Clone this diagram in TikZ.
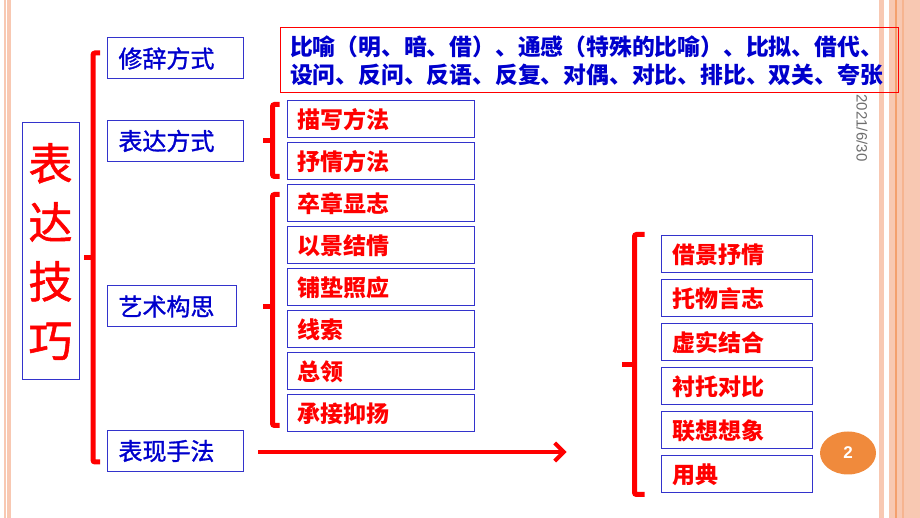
\documentclass[tikz,border=0pt]{standalone}
\usepackage{fontspec}
\setmainfont{Noto Sans CJK SC}
\newfontfamily\heavycjk[FakeBold=1.2]{Noto Sans CJK SC}
\setsansfont{Liberation Sans}
\usetikzlibrary{arrows.meta,positioning,calc,shapes.geometric}
\definecolor{fangblue}{RGB}{0,0,204}
\definecolor{boxblue}{RGB}{51,51,204}
\definecolor{fangred}{RGB}{255,0,0}
\definecolor{peach}{RGB}{248,200,178}
\definecolor{deeppeach}{RGB}{244,160,110}
\definecolor{pageorange}{RGB}{240,138,60}
\definecolor{dategray}{RGB}{110,110,110}
\tikzset{
    %Define standard arrow tip
    >={Straight Barb[length=9pt,width=18pt]},
    way/.style={
      rectangle,
      draw=boxblue, line width=1pt,
      text=fangblue,
      font=\heavycjk\fontsize{24}{28}\selectfont,
      text width=114pt, align=left,
      inner xsep=11pt, inner ysep=0pt,
      minimum height=41pt},
    skill/.style={
      rectangle,
      draw=boxblue, line width=1pt,
      text=fangred,
      font=\fontsize{23}{27}\selectfont\bfseries,
      align=left,
      inner xsep=10pt, inner ysep=0pt,
      minimum height=37pt},
    brk/.style={
      draw=fangred, line width=5pt,
      rounded corners=2pt},
}
\begin{document}
\begin{tikzpicture}[x=1pt,y=1pt,node distance=4pt]
    \useasboundingbox (0,0) rectangle (920,518);
    % slide border stripes
    \fill [peach] (4,0) rectangle (6,518);
    \fill [peach] (7,0) rectangle (11,518);
    \fill [peach] (879,0) rectangle (884,518);
    \fill [peach] (889,0) rectangle (920,518);
    \fill [deeppeach] (895,0) rectangle (897,518);
    \fill [deeppeach!50!peach] (902,0) rectangle (904,518);

    \node (big) [rectangle, draw=boxblue, line width=1pt,
                 minimum width=57pt, minimum height=257pt,
                 text=fangred, align=center,
                 font=\heavycjk\fontsize{44}{59}\selectfont] at (50.5,266.5)
          {表\\达\\技\\巧};

    \node (way1) [way] at (175.5,459.5)
          {修辞方式};
    \node (way2) [way] at (175.5,377)
          {表达方式};
    \node (way3) [way, text width=107pt] at (172,211.5)
          {艺术构思};
    \node (way4) [way] at (175.5,67)
          {表现手法};

    \node (figures) [rectangle, draw=fangred, line width=1pt,
                     text=fangblue, text width=598pt, align=left,
                     inner xsep=10pt, minimum height=65pt,
                     font=\fontsize{22.8}{28}\selectfont\bfseries] at (589,457.5)
          {比喻（明、暗、借）、通感（特殊的比喻）、比拟、借代、\\设问、反问、反语、反复、对偶、对比、排比、双关、夸张};

    \node (desc1) [skill, text width=167pt] at (380.5,398.5)
          {描写方法};
    \node (desc2) [skill, text width=167pt] [below=of desc1]
          {抒情方法};
    \node (art1) [skill, text width=167pt] [below=of desc2]
          {卒章显志};
    \node (art2) [skill, text width=167pt] [below=of art1]
          {以景结情};
    \node (art3) [skill, text width=167pt] [below=of art2]
          {铺垫照应};
    \node (art4) [skill, text width=167pt] [below=of art3]
          {线索};
    \node (art5) [skill, text width=167pt] [below=of art4]
          {总领};
    \node (art6) [skill, text width=167pt] [below=of art5]
          {承接抑扬};

    \node (tech1) [skill, text width=129pt, inner xsep=11pt] at (736.5,263.5)
          {借景抒情};
    \node (tech2) [skill, text width=129pt, inner xsep=11pt] [below=6pt of tech1]
          {托物言志};
    \node (tech3) [skill, text width=129pt, inner xsep=11pt] [below=6pt of tech2]
          {虚实结合};
    \node (tech4) [skill, text width=129pt, inner xsep=11pt] [below=6pt of tech3]
          {衬托对比};
    \node (tech5) [skill, text width=129pt, inner xsep=11pt] [below=6pt of tech4]
          {联想想象};
    \node (tech6) [skill, text width=129pt, inner xsep=11pt] [below=6pt of tech5]
          {用典};

    % brackets
    \draw [brk] ($(way1.west)+(-7,5.5)$) -| ($(way4.west)+(-14,-11)$) -- ++(7,0);
    \draw [brk] ($(big.east)+(14,-6)$) -- ++(-10,0);

    \draw [brk] ($(desc1.north west)+(-7,-4)$) -| ($(desc2.south west)+(-14,4)$) -- ++(7,0);
    \draw [brk] ($(desc1.west)!0.5!(desc2.west)+(-14,0)$) -- ++(-10,0);

    \coordinate (artbar) at ($(art1.west)+(-14,0)$);
    \draw [brk] ($(art1.north west)+(-7,-10)$) -| ($(art6.south west)+(-14,7)$) -- ++(7,0);
    \draw [brk] (artbar |- way3.east) -- ++(-10,0);

    \coordinate (techbar) at ($(tech1.west)+(-26,0)$);
    \draw [brk] ($(tech1.north west)+(-16,1)$) -| ($(tech6.south west)+(-26,-1)$) -- ++(10,0);
    \draw [brk] ($(tech1.north west)!0.5!(tech6.south west)+(-26,0)$) -- ++(-13,0);

    \draw [->, draw=fangred, line width=4pt] ($(way4.east)+(14,-1)$) -- ($(techbar |- way4.east)+(-68,-1)$);

    \node (page) [ellipse, fill=pageorange, text=white,
                  minimum width=56pt, minimum height=43pt,
                  font=\sffamily\bfseries\fontsize{17}{19}\selectfont] at (848,65)
          {2};
    \node (date) [rotate=-90, text=dategray,
                  font=\sffamily\fontsize{15}{17}\selectfont] at (862,390)
          {2021/6/30};
\end{tikzpicture}
\end{document}
